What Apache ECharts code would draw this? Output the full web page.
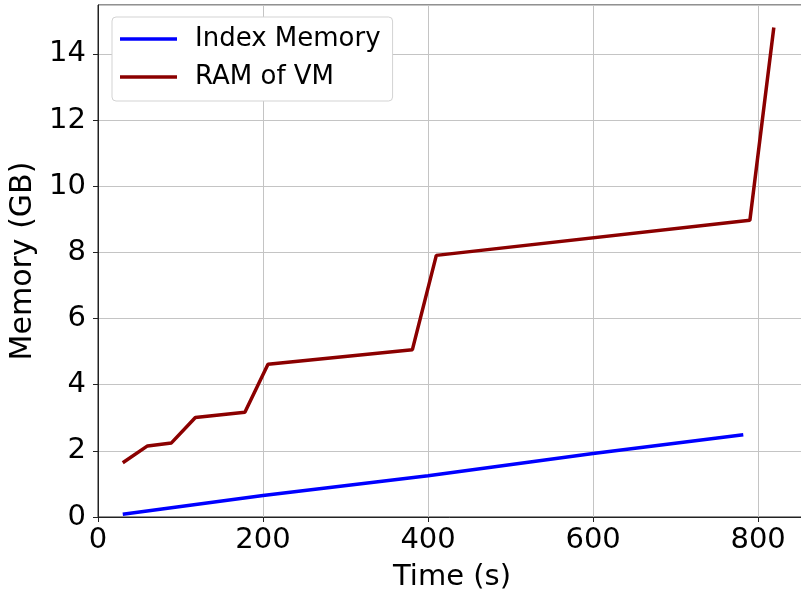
<!DOCTYPE html>
<html>
<head>
<meta charset="utf-8">
<script src="https://cdn.jsdelivr.net/npm/echarts@6/dist/echarts.min.js"></script>
<style>
  html, body { margin: 0; padding: 0; background: #fff; }
  #chart { width: 801px; height: 592px; }
</style>
</head>
<body>
<div id="chart"></div>
<script>
// Index memory growth over time (s, GB)
const indexTime = [30, 200, 400, 600, 782];
const indexMem = [0.08, 0.65, 1.25, 1.92, 2.49];

// RAM used by the VM over time (s, GB)
const ramTime = [30, 60, 89, 118, 178, 206, 381, 410, 790, 819];
const ramMem = [1.64, 2.15, 2.24, 3.01, 3.17, 4.62, 5.06, 7.91, 8.97, 14.8];

const xTicks = [0, 200, 400, 600, 800];
const yTicks = [0, 2, 4, 6, 8, 10, 12, 14];

const seriesNames = ['Index Memory', 'RAM of VM'];
const seriesColors = ['#0000ff', '#8b0000'];

const font = 'DejaVu Sans';
const pairs = (xs, ys) => xs.map((x, i) => [x, ys[i]]);

const chart = echarts.init(document.getElementById('chart'), null, { renderer: 'canvas' });

chart.setOption({
  animation: false,
  backgroundColor: '#ffffff',
  grid: {
    left: 98, top: 5, width: 708, height: 512,
    outerBoundsMode: 'none',
    containLabel: false,
    show: true, borderColor: '#222', borderWidth: 1, backgroundColor: 'transparent'
  },
  legend: {
    orient: 'vertical',
    left: 112, top: 17,
    padding: [9, 12, 11, 8],
    itemGap: 12,
    itemWidth: 57, itemHeight: 3.5,
    icon: 'rect',
    backgroundColor: '#ffffff',
    borderColor: '#d3d3d3', borderWidth: 1, borderRadius: 4,
    textStyle: { fontFamily: font, fontSize: 26, color: '#000', lineHeight: 26, padding: [0, 0, 0, 13] },
    data: seriesNames
  },
  xAxis: {
    type: 'value',
    min: 0, max: 858, interval: 200,
    name: 'Time (s)',
    nameLocation: 'middle',
    nameGap: 46,
    nameTextStyle: { fontFamily: font, fontSize: 29, color: '#000' },
    axisLine: { show: true, lineStyle: { color: '#222', width: 1 } },
    axisTick: { show: true, length: 5, lineStyle: { color: '#222' } },
    axisLabel: {
      fontFamily: font, fontSize: 29, color: '#000', margin: 9,
      showMaxLabel: false,
      formatter: v => (xTicks.includes(v) ? String(v) : '')
    },
    splitLine: { show: true, lineStyle: { color: '#c4c4c4', width: 1 } }
  },
  yAxis: {
    type: 'value',
    min: 0, max: 15.48, interval: 2,
    name: 'Memory (GB)',
    nameLocation: 'middle',
    nameGap: 58,
    nameRotate: 90,
    nameTextStyle: { fontFamily: font, fontSize: 30, color: '#000' },
    axisLine: { show: true, lineStyle: { color: '#222', width: 1 } },
    axisTick: { show: true, length: 5, lineStyle: { color: '#222' } },
    axisLabel: {
      fontFamily: font, fontSize: 29, color: '#000', margin: 12,
      showMaxLabel: false,
      formatter: v => (yTicks.includes(v) ? String(v) : '')
    },
    splitLine: { show: true, lineStyle: { color: '#c4c4c4', width: 1 } }
  },
  series: [
    {
      name: seriesNames[0], type: 'line', symbol: 'none',
      color: seriesColors[0],
      lineStyle: { color: seriesColors[0], width: 3.5 },
      data: pairs(indexTime, indexMem)
    },
    {
      name: seriesNames[1], type: 'line', symbol: 'none',
      color: seriesColors[1],
      lineStyle: { color: seriesColors[1], width: 3.5 },
      data: pairs(ramTime, ramMem)
    }
  ]
});
</script>
</body>
</html>
